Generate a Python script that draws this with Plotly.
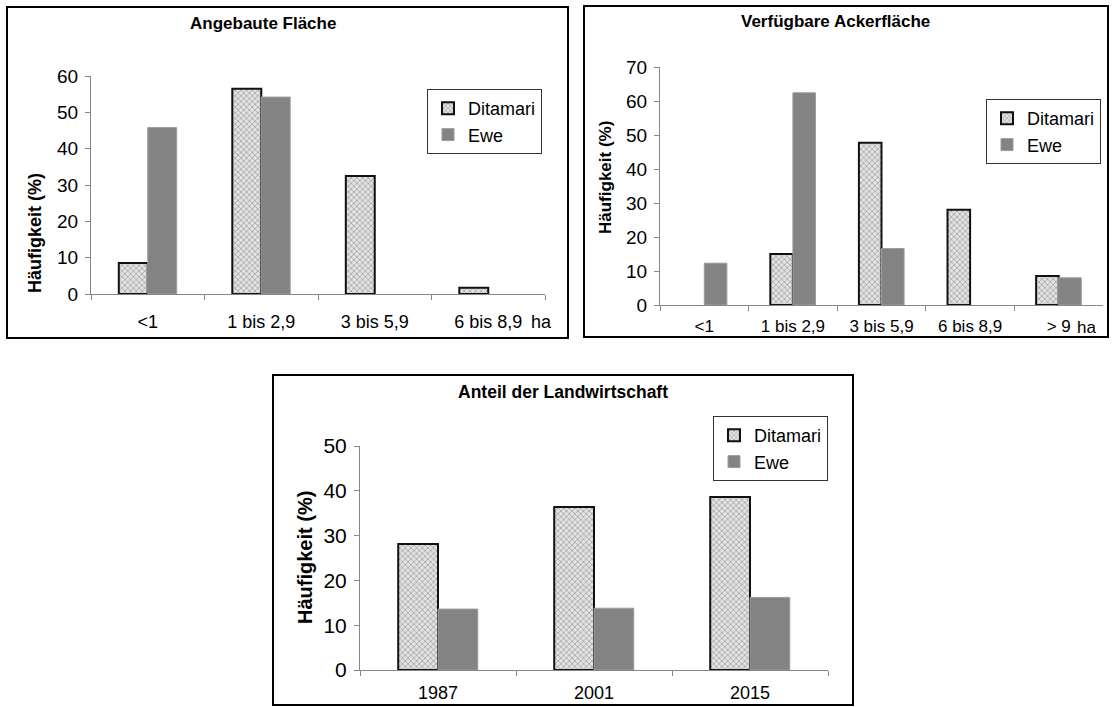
import plotly.graph_objects as go

# ---- data ----
cat_flaeche = ["<1", "1 bis 2,9", "3 bis 5,9", "6 bis 8,9"]
flaeche_ditamari = [8.5, 56.5, 32.5, 1.7]
flaeche_ewe = [45.8, 54.2, None, None]

cat_acker = ["<1", "1 bis 2,9", "3 bis 5,9", "6 bis 8,9", "> 9"]
acker_ditamari = [None, 15.0, 47.7, 28.0, 8.5]
acker_ewe = [12.3, 62.4, 16.6, None, 8.0]

cat_jahr = ["1987", "2001", "2015"]
land_ditamari = [28.1, 36.4, 38.6]
land_ewe = [13.6, 13.8, 16.2]

W, H = 1113, 707
FONT = "Liberation Sans, Arial, sans-serif"


def px(x):
    return x / W


def py(y):
    return 1 - y / H


ditamari_marker = dict(
    pattern=dict(shape="x", size=4, solidity=0.3, fgcolor="#959595",
                 bgcolor="#e2e2e2", fillmode="replace"),
    line=dict(color="#111111", width=2),
)
ewe_marker = dict(color="#838383", line=dict(color="#9c9c9c", width=1))

fig = go.Figure()

panels = [
    ("x", "y", "legend", cat_flaeche, flaeche_ditamari, flaeche_ewe),
    ("x2", "y2", "legend2", cat_acker, acker_ditamari, acker_ewe),
    ("x3", "y3", "legend3", cat_jahr, land_ditamari, land_ewe),
]
for xa, ya, lg, cats, d_vals, e_vals in panels:
    fig.add_trace(go.Bar(x=cats, y=d_vals, name="Ditamari", xaxis=xa, yaxis=ya,
                         legend=lg, marker=ditamari_marker))
    fig.add_trace(go.Bar(x=cats, y=e_vals, name="Ewe", xaxis=xa, yaxis=ya,
                         legend=lg, marker=ewe_marker))


def axis_common(size):
    return dict(showgrid=False, zeroline=False, showline=True,
                linecolor="#868686", linewidth=1, ticks="outside",
                ticklen=5, tickcolor="#868686", fixedrange=True,
                tickfont=dict(family=FONT, size=size, color="#000000"))


def xaxis(dom, anchor, standoff, size=18):
    return dict(domain=[px(dom[0]), px(dom[1])], anchor=anchor, type="category",
                tickson="boundaries", ticklabelstandoff=standoff,
                **axis_common(size))


def yaxis(dom, anchor, rng, dtick, size=19):
    return dict(domain=[py(dom[1]), py(dom[0])], anchor=anchor, range=rng,
                dtick=dtick, ticklabelstandoff=3, **axis_common(size))


def legend_at(x, y):
    return dict(x=px(x), y=py(y), bgcolor="#ffffff", bordercolor="#333333",
                borderwidth=1, font=dict(family=FONT, size=18, color="#000000"),
                xanchor="left", yanchor="top", itemwidth=30, tracegroupgap=0)


fig.update_layout(
    width=W, height=H, margin=dict(l=0, r=0, t=0, b=0, autoexpand=False),
    paper_bgcolor="#ffffff", plot_bgcolor="#ffffff",
    barmode="group", bargap=0.49, bargroupgap=0,
    showlegend=True,
    xaxis=xaxis((91, 545), "y", 11),
    yaxis=yaxis((76, 294), "x", [0, 60], 10),
    xaxis2=xaxis((660, 1103), "y2", 6, size=17),
    yaxis2=yaxis((67, 305), "x2", [0, 70], 10),
    xaxis3=xaxis((360, 828), "y3", 6),
    yaxis3=yaxis((446, 670), "x3", [0, 50], 10, size=21),
    legend=legend_at(427, 89),
    legend2=legend_at(986, 99),
    legend3=legend_at(713, 416),
)

# frames around each panel
for x0, y0, x1, y1 in [(7, 7, 568, 338), (584, 6, 1108, 337), (273, 375, 853, 705)]:
    fig.add_shape(type="rect", xref="paper", yref="paper",
                  x0=px(x0), y0=py(y0), x1=px(x1), y1=py(y1),
                  line=dict(color="#000000", width=2), fillcolor="rgba(0,0,0,0)")

titles = [("Angebaute Fläche", 263, 23, 17), ("Verfügbare Ackerfläche", 835, 22, 17),
          ("Anteil der Landwirtschaft", 563, 392, 17.5)]
for txt, x, y, s in titles:
    fig.add_annotation(text="<b>%s</b>" % txt, xref="paper", yref="paper",
                       x=px(x), y=py(y), xanchor="center", yanchor="middle",
                       showarrow=False,
                       font=dict(family=FONT, size=s, color="#000000"))

for x, y, s in [(35, 233, 18), (605, 178, 17), (305, 558, 20)]:
    fig.add_annotation(text="<b>Häufigkeit (%)</b>", xref="paper", yref="paper",
                       x=px(x), y=py(y), xanchor="center", yanchor="middle",
                       textangle=-90, showarrow=False,
                       font=dict(family=FONT, size=s, color="#000000"))

# unit label following the last size class
for x, y, s in [(541, 322, 18), (1086, 327, 17)]:
    fig.add_annotation(text="ha", xref="paper", yref="paper", x=px(x), y=py(y),
                       xanchor="center", yanchor="middle", showarrow=False,
                       font=dict(family=FONT, size=s, color="#000000"))

fig.write_html("out.html")
